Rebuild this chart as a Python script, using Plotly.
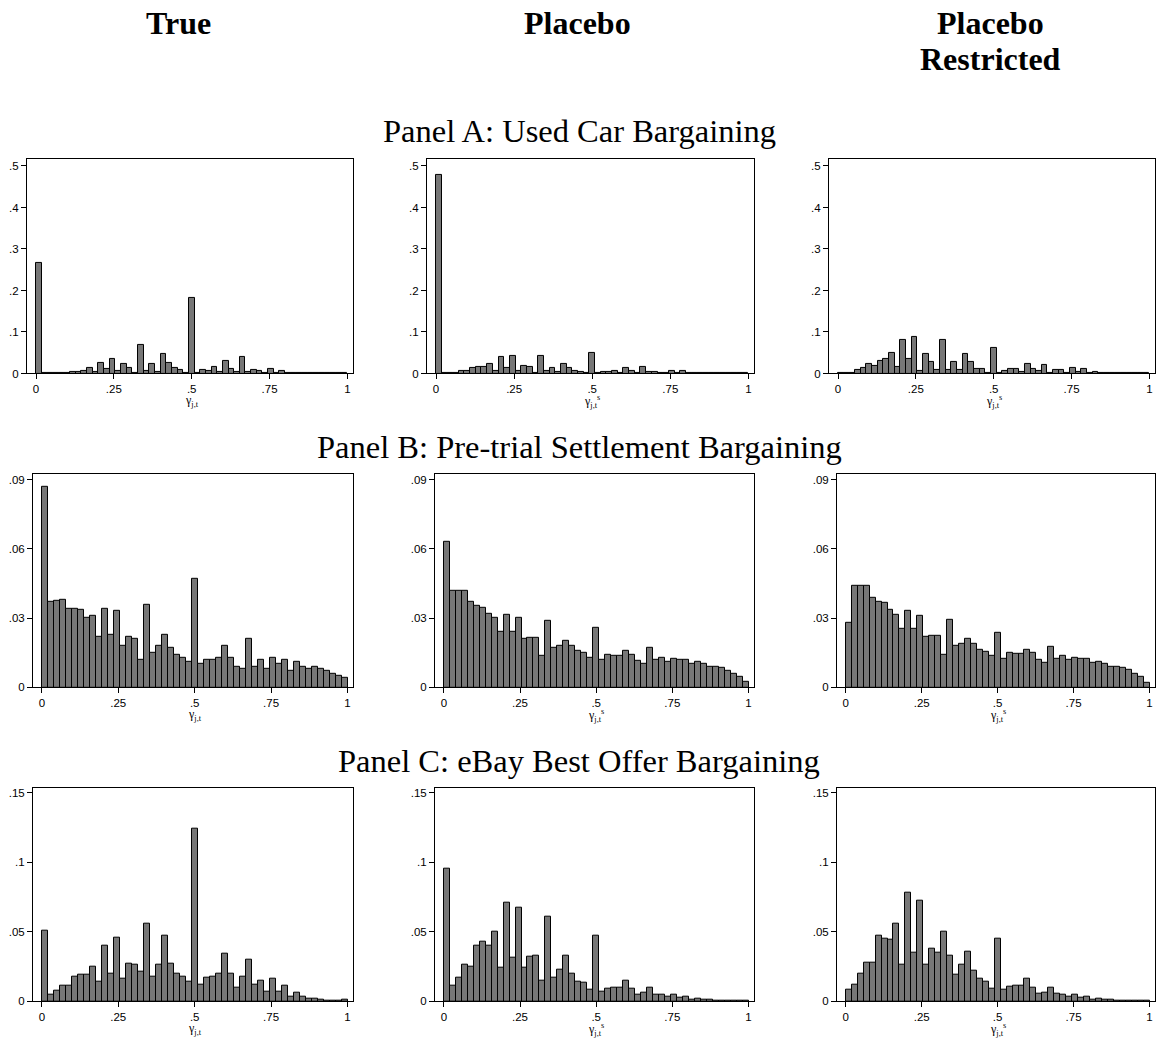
import plotly.graph_objects as go

# ---------------- data (bin densities) ----------------
N_BINS_A = 55
N_BINS_BC = 51

car_true = [0.266, 0.0005, 0.0003, 0.0008, 0.001, 0.002, 0.003, 0.004, 0.006, 0.013,
            0.004, 0.026, 0.011, 0.034, 0.006, 0.022, 0.014, 0.002, 0.069, 0.006,
            0.023, 0.004, 0.046, 0.025, 0.014, 0.008, 0.001, 0.182, 0.001, 0.008,
            0.007, 0.015, 0.003, 0.030, 0.011, 0.004, 0.039, 0.004, 0.008, 0.005,
            0.001, 0.011, 0.001, 0.007, 0.001, 0.002, 0.001, 0.001, 0.0008, 0.0006,
            0.0005, 0.0004, 0.0004, 0.0003, 0.0005]
car_placebo = [0.478, 0.0005, 0.001, 0.002, 0.005, 0.005, 0.013, 0.015, 0.016, 0.023,
               0.006, 0.040, 0.013, 0.042, 0.006, 0.019, 0.016, 0.002, 0.042, 0.006,
               0.013, 0.004, 0.023, 0.013, 0.006, 0.004, 0.001, 0.050, 0.001, 0.003,
               0.003, 0.006, 0.002, 0.013, 0.005, 0.002, 0.015, 0.003, 0.003, 0.002,
               0.001, 0.006, 0.001, 0.006, 0.001, 0.001, 0.0008, 0.0006, 0.0005, 0.0005,
               0.0004, 0.0004, 0.0003, 0.0003, 0.0003]
car_restricted = [0.0005, 0.001, 0.002, 0.009, 0.014, 0.023, 0.017, 0.030, 0.035, 0.049,
                  0.015, 0.081, 0.035, 0.089, 0.006, 0.047, 0.027, 0.009, 0.081, 0.008,
                  0.028, 0.008, 0.047, 0.027, 0.012, 0.011, 0.001, 0.061, 0.001, 0.006,
                  0.011, 0.012, 0.003, 0.023, 0.010, 0.006, 0.020, 0.001, 0.008, 0.009,
                  0.001, 0.014, 0.004, 0.012, 0.001, 0.004, 0.001, 0.001, 0.0008, 0.0006,
                  0.0005, 0.0004, 0.0003, 0.0003, 0.0003]

trial_true = [0.087, 0.037, 0.0375, 0.038, 0.034, 0.034, 0.0335, 0.030, 0.031, 0.022,
              0.034, 0.023, 0.033, 0.018, 0.022, 0.021, 0.012, 0.036, 0.015, 0.018,
              0.023, 0.017, 0.014, 0.013, 0.011, 0.047, 0.010, 0.012, 0.012, 0.013,
              0.018, 0.013, 0.009, 0.008, 0.021, 0.009, 0.012, 0.008, 0.013, 0.010,
              0.012, 0.007, 0.011, 0.009, 0.008, 0.009, 0.008, 0.007, 0.006, 0.005,
              0.004]
trial_placebo = [0.063, 0.042, 0.042, 0.042, 0.037, 0.0355, 0.0345, 0.032, 0.030, 0.024,
                 0.0315, 0.024, 0.030, 0.021, 0.0215, 0.0215, 0.0135, 0.029, 0.017, 0.018,
                 0.020, 0.018, 0.016, 0.015, 0.013, 0.026, 0.012, 0.014, 0.0135, 0.0135,
                 0.016, 0.014, 0.0115, 0.010, 0.017, 0.012, 0.013, 0.011, 0.0125, 0.012,
                 0.012, 0.010, 0.011, 0.010, 0.009, 0.009, 0.0085, 0.007, 0.006, 0.0045,
                 0.0025]
trial_restricted = [0.028, 0.044, 0.044, 0.044, 0.039, 0.037, 0.0365, 0.0335, 0.0315, 0.0255,
                    0.033, 0.0255, 0.031, 0.022, 0.0225, 0.0225, 0.014, 0.0295, 0.018, 0.019,
                    0.021, 0.019, 0.0165, 0.0155, 0.0135, 0.0235, 0.0125, 0.015, 0.0145, 0.0145,
                    0.0165, 0.015, 0.012, 0.0105, 0.0175, 0.0125, 0.0135, 0.012, 0.013, 0.0125,
                    0.0125, 0.0105, 0.011, 0.010, 0.009, 0.009, 0.0085, 0.0075, 0.006, 0.0045,
                    0.002]

ebay_true = [0.051, 0.005, 0.0075, 0.011, 0.011, 0.0175, 0.019, 0.019, 0.025, 0.014,
             0.040, 0.020, 0.046, 0.016, 0.027, 0.026, 0.021, 0.056, 0.018, 0.026,
             0.047, 0.027, 0.020, 0.018, 0.014, 0.124, 0.012, 0.017, 0.018, 0.020,
             0.034, 0.020, 0.010, 0.018, 0.030, 0.012, 0.015, 0.007, 0.016, 0.007,
             0.011, 0.003, 0.006, 0.003, 0.002, 0.0015, 0.001, 0.0005, 0.0003, 0.0003,
             0.001]
ebay_placebo = [0.095, 0.011, 0.017, 0.026, 0.025, 0.040, 0.043, 0.040, 0.050, 0.024,
                0.071, 0.031, 0.067, 0.024, 0.032, 0.033, 0.015, 0.061, 0.017, 0.023,
                0.033, 0.020, 0.014, 0.013, 0.008, 0.047, 0.007, 0.009, 0.010, 0.010,
                0.015, 0.009, 0.005, 0.006, 0.010, 0.005, 0.0045, 0.003, 0.005, 0.0025,
                0.003, 0.001, 0.0015, 0.001, 0.0008, 0.0005, 0.0003, 0.0002, 0.0002, 0.0002,
                0.0002]
ebay_restricted = [0.008, 0.012, 0.020, 0.028, 0.028, 0.047, 0.045, 0.044, 0.056, 0.026,
                   0.078, 0.035, 0.072, 0.026, 0.038, 0.035, 0.050, 0.033, 0.019, 0.026,
                   0.036, 0.022, 0.016, 0.014, 0.009, 0.045, 0.008, 0.0105, 0.011, 0.011,
                   0.0165, 0.0095, 0.0055, 0.0065, 0.010, 0.0055, 0.005, 0.003, 0.005, 0.0025,
                   0.003, 0.001, 0.0015, 0.001, 0.0008, 0.0004, 0.0003, 0.0002, 0.0002, 0.0002,
                   0.0002]

column_titles = [["True"], ["Placebo"], ["Placebo", "Restricted"]]
panel_titles = ["Panel A: Used Car Bargaining",
                "Panel B: Pre-trial Settlement Bargaining",
                "Panel C: eBay Best Offer Bargaining"]
x_tick_vals = [0, 0.25, 0.5, 0.75, 1]
x_tick_text = ["0", ".25", ".5", ".75", "1"]
y_tick_vals = [[0, 0.1, 0.2, 0.3, 0.4, 0.5], [0, 0.03, 0.06, 0.09], [0, 0.05, 0.1, 0.15]]
y_tick_text = [["0", ".1", ".2", ".3", ".4", ".5"], ["0", ".03", ".06", ".09"], ["0", ".05", ".1", ".15"]]
y_tops = [0.517, 0.0926, 0.1536]
x_title_true = "γ<sub>j,t</sub>"
x_title_placebo = "γ<sub>j,t</sub><sup>s</sup>"

panels = [
    [(car_true, N_BINS_A), (car_placebo, N_BINS_A), (car_restricted, N_BINS_A)],
    [(trial_true, N_BINS_BC), (trial_placebo, N_BINS_BC), (trial_restricted, N_BINS_BC)],
    [(ebay_true, N_BINS_BC), (ebay_placebo, N_BINS_BC), (ebay_restricted, N_BINS_BC)],
]

# ---------------- layout geometry (pixels) ----------------
W, H = 1158, 1041
col_px = [
    [(27, 353), (427, 754), (829, 1155)],
    [(33, 353), (435, 754), (837, 1155)],
    [(33, 353), (435, 754), (837, 1155)],
]
row_px = [(159, 375), (476, 691), (792, 1007)]
X_LO, X_HI = -0.029, 1.018

BAR_FILL = "#777777"
TICK_FONT = dict(family="Liberation Sans, Arial, sans-serif", size=11.5, color="black")

fig = go.Figure()
layout = dict(
    width=W, height=H,
    margin=dict(l=0, r=0, t=0, b=0),
    paper_bgcolor="white", plot_bgcolor="white",
    showlegend=False, bargap=0,
)
annotations = []

idx = 0
for r in range(3):
    for c in range(3):
        idx += 1
        vals, nb = panels[r][c]
        xs = [(i + 0.5) / nb for i in range(nb)]
        xa = "x" if idx == 1 else f"x{idx}"
        ya = "y" if idx == 1 else f"y{idx}"
        fig.add_trace(go.Bar(
            x=xs, y=vals, width=[1.0 / nb] * nb,
            marker=dict(color=BAR_FILL, line=dict(color="black", width=1)),
            xaxis=xa, yaxis=ya, hoverinfo="x+y",
        ))
        x0, x1 = col_px[r][c]
        yt, yb = row_px[r]
        xkey = "xaxis" if idx == 1 else f"xaxis{idx}"
        ykey = "yaxis" if idx == 1 else f"yaxis{idx}"
        layout[xkey] = dict(
            domain=[x0 / W, x1 / W], range=[X_LO, X_HI], anchor=ya,
            tickmode="array", tickvals=x_tick_vals, ticktext=x_tick_text,
            ticks="outside", ticklen=5, tickwidth=1, tickcolor="black",
            showline=True, linecolor="black", linewidth=1, mirror=True,
            showgrid=False, zeroline=False, tickfont=TICK_FONT, fixedrange=True,
        )
        layout[ykey] = dict(
            domain=[1 - yb / H, 1 - yt / H], range=[0, y_tops[r]], anchor=xa,
            tickmode="array", tickvals=y_tick_vals[r], ticktext=y_tick_text[r],
            ticks="outside", ticklen=5, tickwidth=1, tickcolor="black",
            showline=True, linecolor="black", linewidth=1, mirror=True,
            showgrid=False, zeroline=False, tickfont=TICK_FONT, fixedrange=True,
        )
        # x-axis title placed under the centre of the [0, 1] data range
        frac = (0.5 - X_LO) / (X_HI - X_LO)
        xc = (x0 + frac * (x1 - x0)) / W
        annotations.append(dict(
            text=x_title_true if c == 0 else x_title_placebo,
            x=xc, y=1 - (yb + 28) / H, xref="paper", yref="paper",
            showarrow=False, xanchor="center", yanchor="middle",
            font=dict(family="Liberation Serif, serif", size=12, color="black"),
        ))

# column titles (one annotation per line)
col_title_x = [178, 577, 990]
line_y = [22, 58]
for c, lines in enumerate(column_titles):
    for k, t in enumerate(lines):
        annotations.append(dict(
            text=f"<b>{t}</b>", x=col_title_x[c] / W, y=1 - line_y[k] / H,
            xref="paper", yref="paper", showarrow=False,
            xanchor="center", yanchor="middle",
            font=dict(family="Liberation Serif, serif", size=32, color="black"),
        ))

# panel titles
panel_title_y = [131, 449, 765]
for r, t in enumerate(panel_titles):
    annotations.append(dict(
        text=t, x=579 / W, y=1 - panel_title_y[r] / H,
        xref="paper", yref="paper", showarrow=False,
        xanchor="center", yanchor="middle",
        font=dict(family="Liberation Serif, serif", size=32.5, color="black"),
    ))

layout["annotations"] = annotations
fig.update_layout(**layout)
fig.write_html(
    "out.html",
    config={"displayModeBar": False},
    post_script="document.body.style.margin='0px';",
)
